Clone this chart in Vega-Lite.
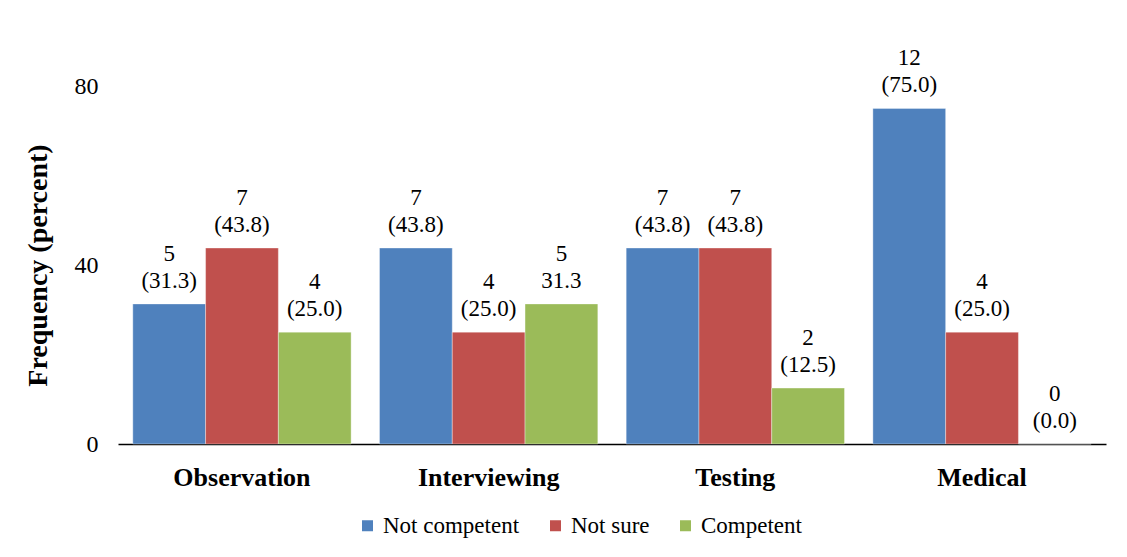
{
  "$schema": "https://vega.github.io/schema/vega-lite/v6.json",
  "autosize": "none",
  "width": 988,
  "height": 358,
  "padding": {"left": 118, "top": 86, "right": 21, "bottom": 113},
  "background": "white",
  "config": {
    "font": "Liberation Serif",
    "view": {"stroke": null},
    "legend": {"labelFont": "Liberation Serif", "labelFontSize": 23, "labelColor": "black"}
  },
  "data": {
    "values": [
      {"skill": "Observation", "level": "Not competent", "percent": 31.3, "label": "5\n(31.3)"},
      {"skill": "Observation", "level": "Not sure", "percent": 43.8, "label": "7\n(43.8)"},
      {"skill": "Observation", "level": "Competent", "percent": 25.0, "label": "4\n(25.0)"},
      {"skill": "Interviewing", "level": "Not competent", "percent": 43.8, "label": "7\n(43.8)"},
      {"skill": "Interviewing", "level": "Not sure", "percent": 25.0, "label": "4\n(25.0)"},
      {"skill": "Interviewing", "level": "Competent", "percent": 31.3, "label": "5\n31.3"},
      {"skill": "Testing", "level": "Not competent", "percent": 43.8, "label": "7\n(43.8)"},
      {"skill": "Testing", "level": "Not sure", "percent": 43.8, "label": "7\n(43.8)"},
      {"skill": "Testing", "level": "Competent", "percent": 12.5, "label": "2\n(12.5)"},
      {"skill": "Medical", "level": "Not competent", "percent": 75.0, "label": "12\n(75.0)"},
      {"skill": "Medical", "level": "Not sure", "percent": 25.0, "label": "4\n(25.0)"},
      {"skill": "Medical", "level": "Competent", "percent": 0.0, "label": "0\n(0.0)"}
    ]
  },
  "encoding": {
    "x": {
      "field": "skill", "type": "nominal", "sort": ["Observation", "Interviewing", "Testing", "Medical"],
      "scale": {"paddingInner": 0.115, "paddingOuter": 0.06},
      "axis": {
        "title": null, "labelAngle": 0, "labelFont": "Liberation Serif", "labelFontSize": 26,
        "labelFontWeight": "bold", "labelColor": "black", "labelPadding": 20,
        "ticks": false, "domainColor": "black", "domainWidth": 1.5
      }
    },
    "xOffset": {"field": "level", "type": "nominal", "sort": ["Not competent", "Not sure", "Competent"]},
    "y": {
      "field": "percent", "type": "quantitative",
      "scale": {"domain": [0, 80]},
      "axis": {
        "values": [0, 40, 80], "grid": false, "domain": false, "ticks": false,
        "labelFontSize": 24, "labelColor": "black", "labelPadding": 20, "labelFont": "Liberation Serif",
        "title": "Frequency (percent)", "titleFontSize": 28, "titleFontWeight": "bold",
        "titleColor": "black", "titleFont": "Liberation Serif", "titlePadding": 22
      }
    }
  },
  "layer": [
    {
      "mark": {"type": "bar", "stroke": "white", "strokeWidth": 0.6, "strokeOpacity": 0.6},
      "encoding": {
        "color": {
          "field": "level", "type": "nominal",
          "sort": ["Not competent", "Not sure", "Competent"],
          "scale": {"domain": ["Not competent", "Not sure", "Competent"], "range": ["#4F81BD", "#C0504D", "#9BBB59"]},
          "legend": {
            "title": null, "orient": "none", "direction": "horizontal",
            "legendX": 238, "legendY": 428,
            "symbolType": "square", "symbolSize": 121, "symbolStrokeWidth": 0,
            "labelFontSize": 23, "labelFont": "Liberation Serif", "labelColor": "black",
            "columnPadding": 24, "labelOffset": 4
          }
        }
      }
    },
    {
      "mark": {"type": "text", "baseline": "bottom", "dy": -38, "fontSize": 23, "lineHeight": 27, "lineBreak": "\n", "color": "black", "font": "Liberation Serif"},
      "encoding": {"text": {"field": "label", "type": "nominal"}}
    }
  ]
}
